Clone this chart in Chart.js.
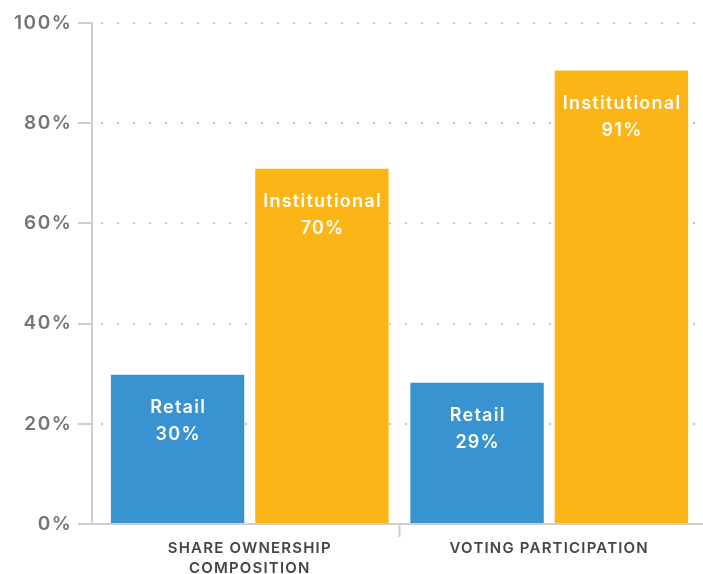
<!DOCTYPE html>
<html>
<head>
<meta charset="utf-8">
<script src="https://cdn.jsdelivr.net/npm/chart.js@4/dist/chart.umd.min.js"></script>
<style>
  html, body { margin: 0; padding: 0; background: #ffffff; }
  #wrap { width: 703px; height: 574px; position: relative; }
</style>
</head>
<body>
<div id="wrap"><canvas id="c"></canvas></div>
<script>
const categories = [['SHARE OWNERSHIP', 'COMPOSITION'], ['VOTING PARTICIPATION']];
const seriesNames = ['Retail', 'Institutional'];
const retailValues = [29.8, 28.2];
const institutionalValues = [70.9, 90.5];
const retailLabels = ['30%', '29%'];
const institutionalLabels = ['70%', '91%'];
const yTickValues = [0, 20, 40, 60, 80, 100];

const FONT = 'Inter, "Open Sans", sans-serif';
const AXIS_COLOR = '#d2cdc6';
const DOT_COLOR = '#c4c4c4';

const valueLabels = [retailLabels, institutionalLabels];

const barLabelPlugin = {
  id: 'barLabels',
  afterDatasetsDraw(chart) {
    const ctx = chart.ctx;
    ctx.save();
    ctx.letterSpacing = '1.25px';
    ctx.fillStyle = '#ffffff';
    ctx.textAlign = 'center';
    ctx.textBaseline = 'middle';
    ctx.font = '600 18px ' + FONT;
    chart.data.datasets.forEach((ds, i) => {
      const meta = chart.getDatasetMeta(i);
      meta.data.forEach((bar, j) => {
        ctx.fillText(seriesNames[i], bar.x + 0.6, bar.y + 32.5);
        ctx.fillText(valueLabels[i][j], bar.x + 0.6, bar.y + 59.5);
      });
    });
    ctx.restore();
  }
};

function spaceLabels(scale, spacing) {
  if (scale._spacedLabels) return;
  scale._spacedLabels = true;
  const orig = scale.drawLabels;
  scale.drawLabels = function (area) {
    const ctx = this.ctx;
    const prev = ctx.letterSpacing;
    ctx.letterSpacing = spacing;
    orig.call(this, area);
    ctx.letterSpacing = prev;
  };
}

const layoutPlugin = {
  id: 'categoryInset',
  afterLayout(chart) {
    const x = chart.scales.x;
    const area = chart.chartArea;
    x.left = area.left + 8;
    x.right = area.right - 4;
    x.width = x.right - x.left;
    x.configure();
    spaceLabels(x, '1.2px');
    spaceLabels(chart.scales.y, '1.6px');
  }
};

new Chart(document.getElementById('c'), {
  type: 'bar',
  data: {
    labels: categories,
    datasets: [
      { label: seriesNames[0], data: retailValues, backgroundColor: '#3893d0' },
      { label: seriesNames[1], data: institutionalValues, backgroundColor: '#fbb516' }
    ]
  },
  options: {
    responsive: true,
    maintainAspectRatio: false,
    animation: false,
    layout: { padding: { top: 23, right: 0, bottom: 0, left: 0 } },
    datasets: { bar: { categoryPercentage: 0.964, barPercentage: 0.924 } },
    plugins: { legend: { display: false }, tooltip: { enabled: false } },
    scales: {
      x: {
        offset: true,
        border: { display: false },
        grid: {
          offset: true,
          drawOnChartArea: false,
          drawTicks: true,
          tickLength: 13,
          tickWidth: 2,
          tickColor: (c) => c.index === 1 ? AXIS_COLOR : 'rgba(0,0,0,0)',
          color: 'rgba(0,0,0,0)'
        },
        ticks: {
          color: '#454545',
          font: { family: FONT, size: 15, weight: '600', lineHeight: 1.34 },
          padding: 1,
          maxRotation: 0,
          autoSkip: false
        },
        afterFit: (s) => { s.height = 50; }
      },
      y: {
        min: 0,
        max: 100,
        afterBuildTicks: (s) => { s.ticks = yTickValues.map(v => ({ value: v })); },
        border: {
          display: true,
          color: AXIS_COLOR,
          width: 2,
          dash: (c) => (c.tick && c.tick.value === 0) ? [] : [2, 14],
          dashOffset: 8
        },
        grid: {
          color: (c) => (c.tick && c.tick.value === 0) ? AXIS_COLOR : DOT_COLOR,
          lineWidth: 2,
          tickLength: 14,
          tickWidth: 2,
          tickColor: AXIS_COLOR,
          tickBorderDash: []
        },
        ticks: {
          callback: (v) => v + '%',
          color: '#77746f',
          font: { family: FONT, size: 19, weight: '600' },
          padding: 5.5
        },
        afterFit: (s) => { s.width = 92; }
      }
    }
  },
  plugins: [barLabelPlugin, layoutPlugin]
});
</script>
</body>
</html>
